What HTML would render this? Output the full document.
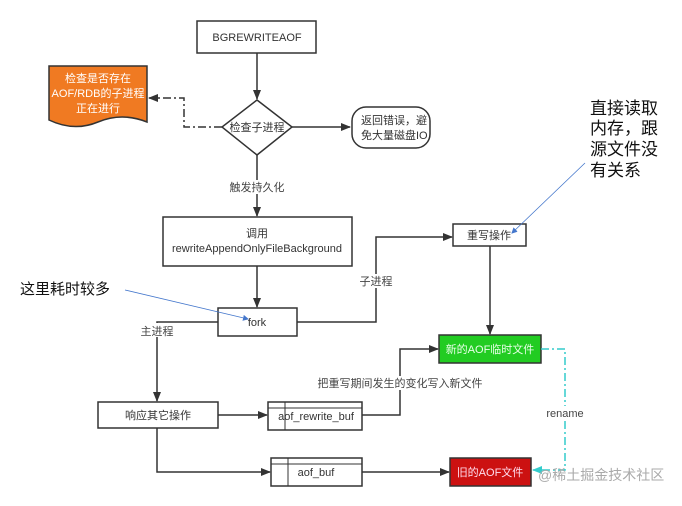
<!DOCTYPE html>
<html><head><meta charset="utf-8"><style>
body{margin:0;background:#fff;}
svg text{font-family:"Liberation Sans","Noto Sans CJK SC",sans-serif;}
</style></head><body>
<svg width="682" height="501" viewBox="0 0 682 501" xmlns="http://www.w3.org/2000/svg">
<defs>
<marker id="a" markerWidth="10" markerHeight="10" refX="9" refY="5" orient="auto" markerUnits="userSpaceOnUse"><path d="M0,1 L10,5 L0,9 Z" fill="#333"/></marker>
<marker id="c" markerWidth="10" markerHeight="10" refX="9" refY="5" orient="auto" markerUnits="userSpaceOnUse"><path d="M0,1 L10,5 L0,9 Z" fill="#3cc"/></marker>
<marker id="b" markerWidth="6" markerHeight="6" refX="5" refY="3" orient="auto" markerUnits="userSpaceOnUse"><path d="M0,0 L6,3 L0,6 Z" fill="#47c"/></marker>
</defs>
<g stroke="#333" stroke-width="1.5" fill="#fff">
<rect x="197" y="21" width="119" height="32"/>
<polygon points="257,100 292,127 257,155 222,127"/>
<rect x="352" y="107" width="78" height="41" rx="14"/>
<rect x="163" y="217" width="189" height="49"/>
<rect x="218" y="308" width="79" height="28"/>
<rect x="453" y="224" width="73" height="22"/>
<rect x="439" y="335" width="102" height="28" fill="#2c2"/>
<rect x="98" y="402" width="120" height="26"/>
<rect x="268" y="402" width="94" height="28"/>
<rect x="271" y="458" width="91" height="28"/>
<rect x="450" y="458" width="81" height="28" fill="#c11"/>
</g>
<g stroke="#333" stroke-width="1">
<line x1="268" y1="408" x2="362" y2="408"/><line x1="285" y1="402" x2="285" y2="430"/>
<line x1="271" y1="464" x2="362" y2="464"/><line x1="288" y1="458" x2="288" y2="486"/>
</g>
<path d="M49,66 H147 V122 Q122,112 98,122 T49,120 Z" fill="#f07a22" stroke="#333" stroke-width="1.5"/>
<g stroke="#333" stroke-width="1.5" fill="none" marker-end="url(#a)">
<line x1="257" y1="53" x2="257" y2="99"/>
<line x1="292" y1="127" x2="350" y2="127"/>
<line x1="257" y1="155" x2="257" y2="216"/>
<line x1="257" y1="266" x2="257" y2="307"/>
<polyline points="297,322 376,322 376,237 452,237"/>
<line x1="490" y1="246" x2="490" y2="334"/>
<polyline points="218,322 157,322 157,401"/>
<line x1="218" y1="415" x2="267" y2="415"/>
<polyline points="362,415 400,415 400,349 438,349"/>
<polyline points="157,428 157,472 270,472"/>
<line x1="362" y1="472" x2="449" y2="472"/>
<polyline points="222,127 184,127 184,98 149,98" stroke-dasharray="8,3,2,3"/>
</g>
<polyline points="541,349 565,349 565,470 533,470" fill="none" stroke="#3cc" stroke-width="1.5" stroke-dasharray="8,3,2,3" marker-end="url(#c)"/>
<line x1="125" y1="290" x2="248" y2="319" stroke="#47c" stroke-width="0.8" marker-end="url(#b)"/>
<line x1="585" y1="163" x2="512" y2="233" stroke="#47c" stroke-width="0.8" marker-end="url(#b)"/>
<g fill="#fff">
<rect x="228" y="180" width="58" height="14"/>
<rect x="359" y="274" width="34" height="14"/>
<rect x="140" y="323" width="34" height="14"/>
<rect x="545" y="406" width="40" height="14"/>
<rect x="316" y="376" width="168" height="14"/>
</g>
<g font-size="11" fill="#333" text-anchor="middle">
<text x="257" y="41">BGREWRITEAOF</text>
<text x="257" y="131">检查子进程</text>
<text x="257" y="191" fill="#444">触发持久化</text>
<text x="257" y="237">调用</text>
<text x="257" y="252">rewriteAppendOnlyFileBackground</text>
<text x="257" y="326">fork</text>
<text x="489" y="239">重写操作</text>
<text x="376" y="285" fill="#444">子进程</text>
<text x="157" y="335" fill="#444">主进程</text>
<text x="158" y="419">响应其它操作</text>
<text x="316" y="420">aof_rewrite_buf</text>
<text x="316" y="476">aof_buf</text>
<text x="400" y="387" fill="#444">把重写期间发生的变化写入新文件</text>
<text x="565" y="417" fill="#444">rename</text>
<text x="490" y="353" fill="#e8ffe8">新的AOF临时文件</text>
<text x="490" y="476" fill="#fde">旧的AOF文件</text>
<text x="98" y="82" fill="#fff">检查是否存在</text>
<text x="98" y="97" fill="#fff">AOF/RDB的子进程</text>
<text x="98" y="112" fill="#fff">正在进行</text>
</g>
<g font-size="11" fill="#333">
<text x="361" y="124">返回错误，避</text>
<text x="361" y="139">免大量磁盘IO</text>
</g>
<text x="20" y="294" font-size="15" fill="#111">这里耗时较多</text>
<g font-size="17" fill="#111">
<text x="590" y="114">直接读取</text>
<text x="590" y="134">内存，跟</text>
<text x="590" y="155">源文件没</text>
<text x="590" y="176">有关系</text>
</g>
<text x="538" y="480" font-size="14" fill="#aaa">@稀土掘金技术社区</text>
</svg>
</body></html>
